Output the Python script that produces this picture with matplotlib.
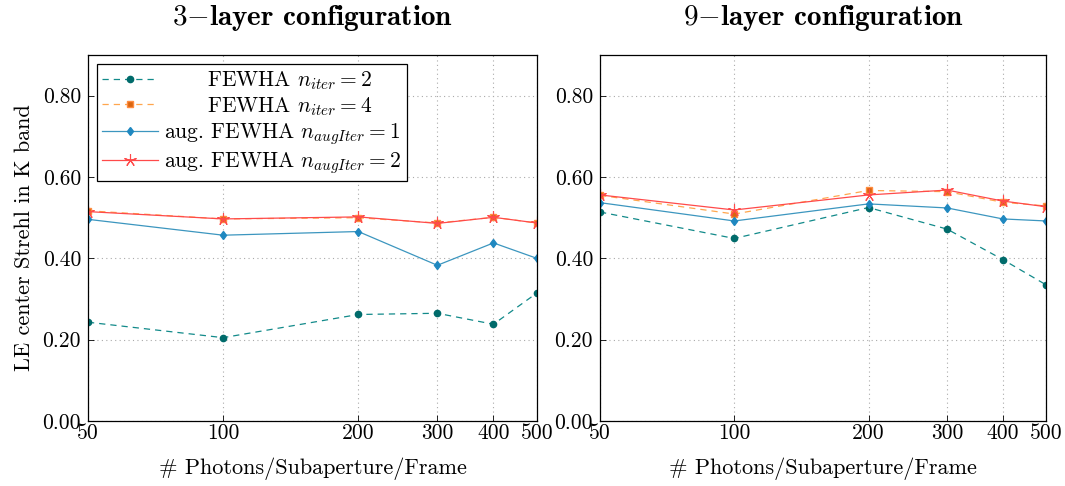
import matplotlib
matplotlib.use('Agg')
from matplotlib import pyplot as plt
from matplotlib.ticker import FixedLocator, FixedFormatter, NullLocator

plt.rcParams['font.family'] = 'cmr10'
plt.rcParams['mathtext.fontset'] = 'cm'
plt.rcParams['axes.formatter.use_mathtext'] = True
plt.rcParams['axes.unicode_minus'] = False

# photons per subaperture per frame
photons = [50, 100, 200, 300, 400, 500]
xtick_labels = ['50', '100', '200', '300', '400', '500']
yticks = [0.0, 0.2, 0.4, 0.6, 0.8]

# 3-layer configuration
l3_fewha2 = [0.243, 0.205, 0.262, 0.265, 0.238, 0.315]
l3_fewha4 = [0.517, 0.497, 0.500, 0.487, 0.501, 0.487]
l3_aug1 = [0.496, 0.457, 0.466, 0.383, 0.438, 0.400]
l3_aug2 = [0.515, 0.497, 0.502, 0.486, 0.501, 0.487]

# 9-layer configuration
l9_fewha2 = [0.514, 0.449, 0.525, 0.472, 0.397, 0.335]
l9_fewha4 = [0.555, 0.509, 0.567, 0.564, 0.538, 0.529]
l9_aug1 = [0.537, 0.492, 0.534, 0.524, 0.497, 0.492]
l9_aug2 = [0.556, 0.519, 0.556, 0.568, 0.541, 0.527]

labels = [r'      FEWHA $n_{iter} = 2$',
          r'      FEWHA $n_{iter} = 4$',
          r'aug. FEWHA $n_{augIter} = 1$',
          r'aug. FEWHA $n_{augIter} = 2$']

fig = plt.figure(figsize=(10.65, 4.86), dpi=100)
ax1 = fig.add_axes([0.0826, 0.1337, 0.4216, 0.753])
ax2 = fig.add_axes([0.5634, 0.1337, 0.4188, 0.753])


def draw(ax, s1, s2, s3, s4, title):
    ax.plot(photons, s1, ls=(0, (5, 4)), lw=0.9, color='#128a8a',
            marker='o', ms=4.5, mfc='#006b6b', mec='#006b6b', label=labels[0])
    ax.plot(photons, s2, ls=(0, (5, 4)), lw=0.9, color='#ffa64d',
            marker='s', ms=4.5, mfc='#d9650f', mec='#ff8c40', label=labels[1])
    ax.plot(photons, s3, ls='-', lw=0.9, color='#3c96bf',
            marker='d', ms=4.5, mfc='#1f88c0', mec='#1f88c0', label=labels[2])
    ax.plot(photons, s4, ls='-', lw=0.9, color='#ff4a4a',
            marker=(5, 2, 0), ms=9, mec='#ff4a4a', mew=0.8, label=labels[3])
    ax.set_xscale('log')
    ax.set_xlim(50, 500)
    ax.set_ylim(0, 0.9)
    ax.xaxis.set_major_locator(FixedLocator(photons))
    ax.xaxis.set_major_formatter(FixedFormatter(xtick_labels))
    ax.xaxis.set_minor_locator(NullLocator())
    ax.set_yticks(yticks)
    ax.set_yticklabels(['%.2f' % v for v in yticks])
    ax.tick_params(direction='in', labelsize=15.5, length=4, width=0.6)
    ax.tick_params(axis='x', pad=2)
    ax.tick_params(axis='y', pad=5)
    ax.grid(True, ls=(0, (1, 3)), color='#aaaaaa', lw=0.8)
    for sp in ax.spines.values():
        sp.set_linewidth(0.9)
    ax.set_xlabel('# Photons/Subaperture/Frame', fontsize=16, labelpad=10)
    ax.set_title(title, fontsize=21, family='cmb10', pad=22)


draw(ax1, l3_fewha2, l3_fewha4, l3_aug1, l3_aug2, r'$3{-}$layer configuration')
draw(ax2, l9_fewha2, l9_fewha4, l9_aug1, l9_aug2, r'$9{-}$layer configuration')
ax1.set_ylabel('LE center Strehl in K band', fontsize=16, labelpad=6)

leg = ax1.legend(loc='upper left', fontsize=15.5, frameon=True, fancybox=False,
                 framealpha=1, edgecolor='black', handlelength=2.6,
                 borderaxespad=0.4, labelspacing=0.15, handletextpad=0.3,
                 borderpad=0.25)
leg.get_frame().set_linewidth(0.9)

fig.savefig('out.png', dpi=100)
